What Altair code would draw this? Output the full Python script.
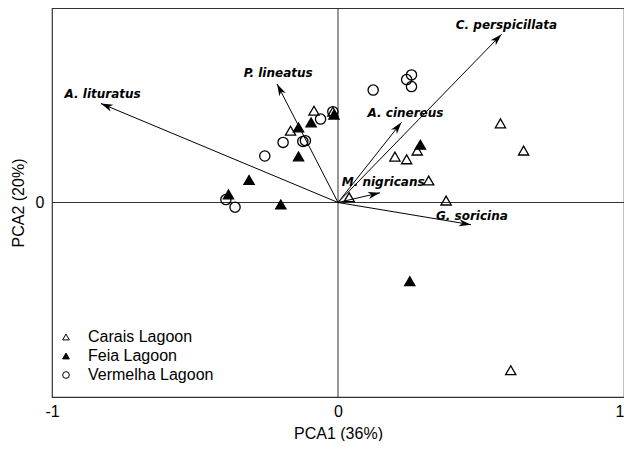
import math
import altair as alt
import pandas as pd

W, H = 572, 389

# ---- data ----
lagoons = ["Carais Lagoon", "Feia Lagoon", "Vermelha Lagoon"]

carais_x = [-0.084, -0.018, -0.166, 0.568, 0.649, 0.277, 0.199, 0.240, 0.317, 0.039, 0.378, 0.604]
carais_y = [0.472, 0.467, 0.369, 0.407, 0.267, 0.267, 0.236, 0.222, 0.113, 0.027, 0.010, -0.862]

feia_x = [-0.094, -0.138, -0.138, -0.311, -0.383, -0.200, 0.288, 0.251, -0.014]
feia_y = [0.412, 0.386, 0.237, 0.116, 0.041, -0.010, 0.297, -0.405, 0.452]

verm_x = [-0.061, -0.018, -0.192, -0.123, -0.114, -0.256, -0.392, -0.360, 0.123, 0.240, 0.257, 0.257]
verm_y = [0.429, 0.467, 0.309, 0.314, 0.318, 0.239, 0.015, -0.024, 0.578, 0.632, 0.656, 0.596]

species = ["A. lituratus", "P. lineatus", "C. perspicillata", "A. cinereus", "M. nigricans", "G. soricina"]
arrow_x = [-0.829, -0.213, 0.572, 0.222, 0.147, 0.465]
arrow_y = [0.509, 0.609, 0.865, 0.412, 0.050, -0.114]
label_x = [-0.823, -0.209, 0.589, 0.236, 0.158, 0.468]
label_y = [0.560, 0.668, 0.912, 0.460, 0.105, -0.068]

x_ticks = [-1, 0, 1]
y_ticks = [0]

# ---- tables ----
rows = []
for name, xs_, ys_ in [(lagoons[0], carais_x, carais_y),
                       (lagoons[1], feia_x, feia_y),
                       (lagoons[2], verm_x, verm_y)]:
    for a, b in zip(xs_, ys_):
        rows.append({"lagoon": name, "x": a, "y": b})
pts = pd.DataFrame(rows)

arr = pd.DataFrame({"species": species, "ax": arrow_x, "ay": arrow_y,
                    "lx": label_x, "ly": label_y})
arr["ox"] = 0.0
arr["oy"] = 0.0
arr["angle"] = [
    (math.degrees(math.atan2(a * W / 2, b * H / 2)) + 360) % 360
    for a, b in zip(arrow_x, arrow_y)
]

FONT = "Liberation Sans"
xs = alt.Scale(domain=[-1, 1], nice=False, zero=False)
ys = alt.Scale(domain=[-1, 1], nice=False, zero=False)

x_axis = alt.Axis(values=x_ticks, title="PCA1 (36%)", grid=False, ticks=False,
                  domain=False, labelFont=FONT, labelFontSize=16,
                  labelColor="black", labelPadding=6, labelFlush=False,
                  labelAlign={"condition": {"test": "datum.value == 1", "value": "right"},
                              "value": "center"},
                  labelExpr="'' + datum.value",
                  titleFont=FONT, titleFontSize=16, titleFontWeight="normal",
                  titleColor="black", titlePadding=6)
y_axis = alt.Axis(values=y_ticks, title="PCA2 (20%)", grid=False, ticks=False,
                  domain=False, labelFont=FONT, labelFontSize=16,
                  labelColor="black", labelPadding=8,
                  titleFont=FONT, titleFontSize=16, titleFontWeight="normal",
                  titleColor="black", titlePadding=9)


def X(field):
    return alt.X(field, scale=xs, axis=x_axis, title="PCA1 (36%)")


def Y(field):
    return alt.Y(field, scale=ys, axis=y_axis, title="PCA2 (20%)")


zero_df = pd.DataFrame({"v": [0.0]})
zx = alt.Chart(zero_df).mark_rule(color="#333333", strokeWidth=1).encode(x=X("v:Q"))
zy = alt.Chart(zero_df).mark_rule(color="#333333", strokeWidth=1).encode(y=Y("v:Q"))

lines = alt.Chart(arr).mark_rule(color="black", strokeWidth=1).encode(
    x=X("ox:Q"), x2="ax:Q", y=Y("oy:Q"), y2="ay:Q")

heads = alt.Chart(arr).mark_point(
    shape="M0,0L0.6,2L0,1.45L-0.6,2Z", filled=True, color="black",
    size=144, opacity=1, strokeWidth=0.5).encode(
    x=X("ax:Q"), y=Y("ay:Q"),
    angle=alt.Angle("angle:Q", scale=None))

labels = alt.Chart(arr).mark_text(
    font="DejaVu Sans", fontSize=12, fontWeight="bold", fontStyle="italic",
    color="black", align="center", baseline="middle").encode(
    x=X("lx:Q"), y=Y("ly:Q"), text="species:N")

legend = alt.Legend(orient="none", legendX=6, legendY=321,
                    labelFont=FONT, labelFontSize=16, labelColor="black",
                    symbolSize=45, symbolStrokeWidth=1, labelOffset=14,
                    rowPadding=3, padding=0)

points = alt.Chart(pts).mark_point(strokeWidth=1.3, opacity=1, size=105).encode(
    x=X("x:Q"), y=Y("y:Q"),
    shape=alt.Shape("lagoon:N", title=None,
                    scale=alt.Scale(domain=lagoons, range=["triangle-up", "triangle-up", "circle"]),
                    legend=legend),
    fill=alt.Fill("lagoon:N", title=None,
                  scale=alt.Scale(domain=lagoons, range=["transparent", "black", "transparent"]),
                  legend=legend),
    stroke=alt.Stroke("lagoon:N", title=None,
                      scale=alt.Scale(domain=lagoons, range=["black", "black", "black"]),
                      legend=legend))

chart = alt.layer(zx, zy, lines, heads, labels, points).properties(
    width=W, height=H,
    padding={"left": 44, "top": 0, "right": 0, "bottom": 44},
    autosize=alt.AutoSizeParams(type="none"),
).configure_view(stroke="#333333", strokeWidth=1.2)

chart.save("out.html", embed_options={"renderer": "svg", "actions": False})
